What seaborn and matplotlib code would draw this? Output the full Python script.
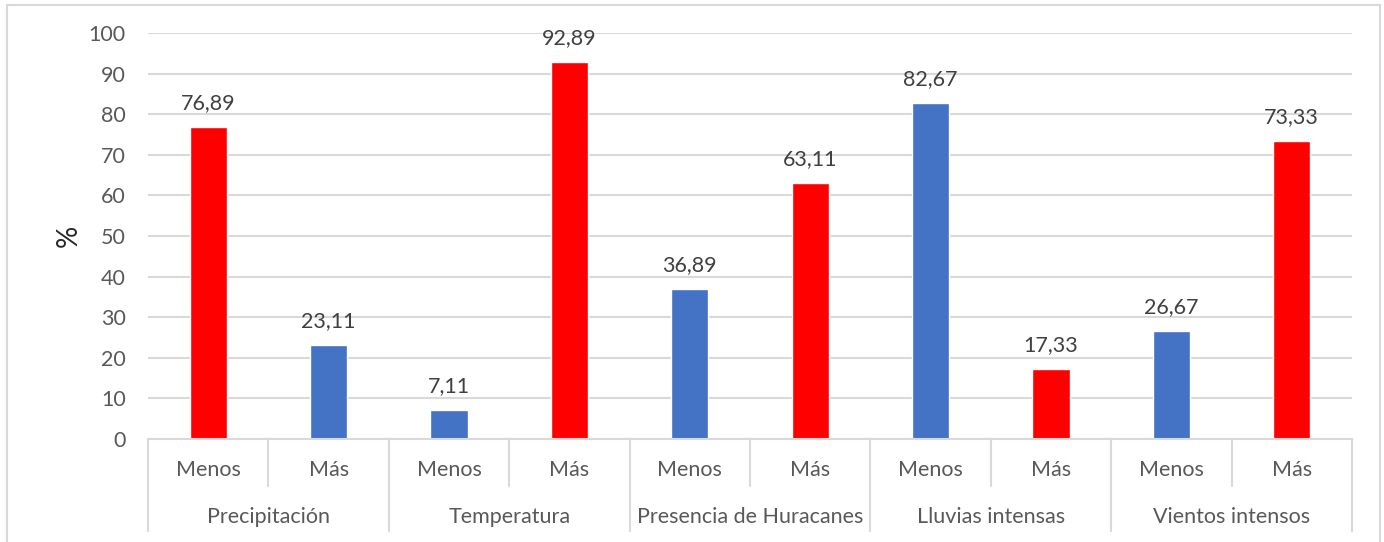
import numpy as np
import pandas as pd
import matplotlib
matplotlib.use("Agg")
import matplotlib.pyplot as plt
import matplotlib.transforms as mtransforms
from matplotlib.patches import Rectangle
import seaborn as sns

groups = ["Precipitación", "Temperatura", "Presencia de Huracanes", "Lluvias intensas", "Vientos intensos"]
levels = ["Menos", "Más"]
values = [76.89, 23.11, 7.11, 92.89, 36.89, 63.11, 82.67, 17.33, 26.67, 73.33]
bar_colors = ["#FF0000", "#4472C4", "#4472C4", "#FF0000", "#4472C4",
              "#FF0000", "#4472C4", "#FF0000", "#4472C4", "#FF0000"]
y_ticks = [0, 10, 20, 30, 40, 50, 60, 70, 80, 90, 100]

sns.set_theme(style="white")
plt.rcParams["font.family"] = ["Lato", "DejaVu Sans"]
TEXT = "#595959"
GRID = "#D9D9D9"
FS = 15.5

keys = [f"{g}|{l}" for g in groups for l in levels]
df = pd.DataFrame({"key": keys, "value": values})

fig = plt.figure(figsize=(13.84, 5.42), dpi=100)
ax = fig.add_axes([148 / 1384, 1 - 439 / 542, (1352 - 148) / 1384, (439 - 33) / 542])

sns.barplot(data=df, x="key", y="value", hue="key", order=keys, hue_order=keys,
            palette=bar_colors, width=0.31, legend=False, ax=ax, saturation=1)

ax.set_ylim(0, 100)
ax.set_xlim(-0.5, len(keys) - 0.5)
ax.set_yticks(y_ticks)
ax.set_yticklabels([str(t) for t in y_ticks], color=TEXT, fontsize=FS)
ax.tick_params(axis="y", length=0, pad=16)
ax.set_xticks([])
ax.set_xlabel("")
ax.set_ylabel("%", color="#262626", fontsize=20, labelpad=5)
ax.yaxis.grid(True, color=GRID, linewidth=1.5)
ax.set_axisbelow(True)
for side in ["top", "right", "left"]:
    ax.spines[side].set_visible(False)
ax.spines["bottom"].set_color(GRID)
ax.spines["bottom"].set_linewidth(1.5)

# value labels
for i, v in enumerate(values):
    ax.annotate(f"{v:.2f}".replace(".", ","), (i, v), xytext=(0, 10), textcoords="offset points",
                ha="center", va="bottom", color="#404040", fontsize=FS)

# two-level category axis
trans = mtransforms.blended_transform_factory(ax.transData, ax.transAxes)
for i, k in enumerate(keys):
    ax.text(i, -0.077, k.split("|")[1], transform=trans, ha="center", va="center",
            color=TEXT, fontsize=FS)
for j, g in enumerate(groups):
    ax.text(2 * j + 0.5, -0.192, g, transform=trans, ha="center", va="center",
            color=TEXT, fontsize=FS)
for b in np.arange(-0.5, len(keys), 1.0):
    outer = (b + 0.5) % 2 == 0
    ax.plot([b, b], [0, -0.227 if outer else -0.116], transform=trans, color=GRID,
            linewidth=1.5, clip_on=False)

# outer chart border
fig.patches.append(Rectangle((7 / 1384, -0.05), (1380 - 7) / 1384, 1.05 - 5 / 542,
                             transform=fig.transFigure, fill=False, edgecolor=GRID,
                             linewidth=1.5))

fig.savefig("out.png", dpi=100)
